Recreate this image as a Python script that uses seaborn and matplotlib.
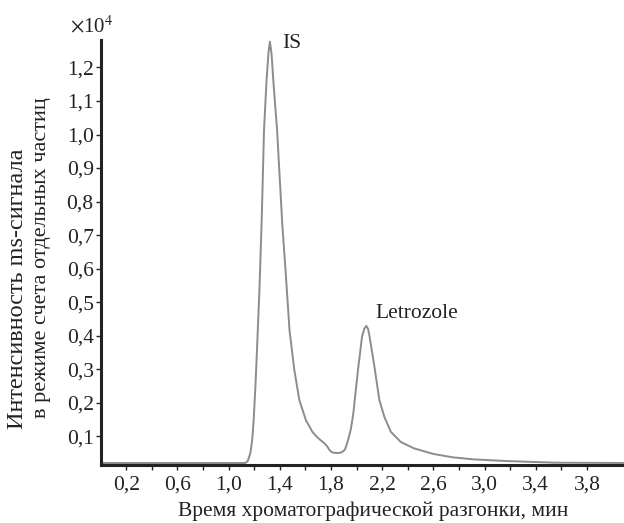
import matplotlib
matplotlib.use("Agg")
import matplotlib.pyplot as plt
import seaborn as sns
import pandas as pd

# --- data ---
time_min = [0.00, 0.50, 1.00, 1.131, 1.150, 1.170, 1.185, 1.196, 1.210, 1.221,
            1.232, 1.242, 1.259, 1.277, 1.297, 1.312, 1.323, 1.336, 1.349, 1.364,
            1.379, 1.420, 1.445, 1.476, 1.514, 1.553, 1.604, 1.655, 1.690, 1.719,
            1.745, 1.770, 1.790, 1.808, 1.834, 1.860, 1.885, 1.910, 1.935, 1.955,
            1.974, 1.995, 2.012, 2.043, 2.060, 2.076, 2.090, 2.102, 2.140, 2.178,
            2.217, 2.268, 2.345, 2.446, 2.600, 2.750, 2.906, 3.161, 3.544, 4.09]
intensity_e4 = [0.020, 0.020, 0.020, 0.020, 0.026, 0.049, 0.090, 0.148, 0.250, 0.348,
                0.450, 0.546, 0.746, 1.014, 1.163, 1.245, 1.277, 1.240, 1.165, 1.088,
                1.014, 0.730, 0.596, 0.417, 0.297, 0.208, 0.148, 0.113, 0.098, 0.088,
                0.080, 0.070, 0.058, 0.052, 0.050, 0.050, 0.052, 0.060, 0.090, 0.120,
                0.165, 0.240, 0.300, 0.397, 0.420, 0.429, 0.420, 0.397, 0.307, 0.208,
                0.158, 0.113, 0.083, 0.064, 0.047, 0.037, 0.031, 0.026, 0.021, 0.020]

x_ticks = [0.2, 0.4, 0.6, 0.8, 1.0, 1.2, 1.4, 1.6, 1.8, 2.0, 2.2, 2.4, 2.6, 2.8,
           3.0, 3.2, 3.4, 3.6, 3.8]
x_tick_labels = ["0,2", "", "0,6", "", "1,0", "", "1,4", "", "1,8", "", "2,2", "",
                 "2,6", "", "3,0", "", "3,4", "", "3,8"]
y_ticks = [0.1, 0.2, 0.3, 0.4, 0.5, 0.6, 0.7, 0.8, 0.9, 1.0, 1.1, 1.2]
y_tick_labels = ["0,1", "0,2", "0,3", "0,4", "0,5", "0,6", "0,7", "0,8", "0,9",
                 "1,0", "1,1", "1,2"]

peak_names = ["IS", "Letrozole"]
peak_label_x = [1.42, 2.15]
peak_label_y = [1.272, 0.465]

df = pd.DataFrame({"t": time_min, "v": intensity_e4})

sns.set_style("ticks")
plt.rcParams["font.family"] = ["Liberation Serif", "DejaVu Serif"]
plt.rcParams["mathtext.fontset"] = "stix"

TXT = "#222222"
fig = plt.figure(figsize=(6.24, 5.23), dpi=100)
ax = fig.add_axes([100.6 / 624, 1 - 465 / 523, 1 - 100.6 / 624, (465 - 40) / 523])

sns.lineplot(data=df, x="t", y="v", ax=ax, color="#8c8c8c", linewidth=1.4,
             estimator=None, sort=False)

ax.set_xlim(0, 4.09)
ax.set_ylim(0.014, 1.282)

ax.set_xticks(x_ticks)
ax.set_xticklabels(x_tick_labels)
ax.set_yticks(y_ticks)
ax.set_yticklabels(y_tick_labels)
ax.tick_params(axis="both", direction="out", length=3.5, width=1.0,
               labelsize=15.5, colors=TXT, labelcolor=TXT)
ax.tick_params(axis="x", pad=4)
ax.tick_params(axis="y", pad=1.5)

for s in ["top", "right"]:
    ax.spines[s].set_visible(False)
for s in ["left", "bottom"]:
    ax.spines[s].set_linewidth(2.2)
    ax.spines[s].set_color(TXT)

ax.set_xlabel("")
ax.set_ylabel("")

for name, px, py in zip(peak_names, peak_label_x, peak_label_y):
    ax.text(px, py, name, fontsize=15.5, ha="left", va="center", color=TXT)

fig.text(373 / 624, 1 - 511 / 523, "Время хроматографической разгонки, мин",
         ha="center", va="center", fontsize=15.5, color=TXT)
fig.text(18 / 624, 1 - 289 / 523, "Интенсивность ms-сигнала", rotation=90,
         ha="center", va="center", fontsize=17.5, color=TXT)
fig.text(42 / 624, 1 - 258 / 523, "в режиме счета отдельных частиц", rotation=90,
         ha="center", va="center", fontsize=16, color=TXT)
fig.text(70 / 624, 1 - 27 / 523, r"$\times$10$^4$", ha="left", va="center",
         fontsize=15, color=TXT)

fig.savefig("out.png", dpi=100, facecolor="white")
